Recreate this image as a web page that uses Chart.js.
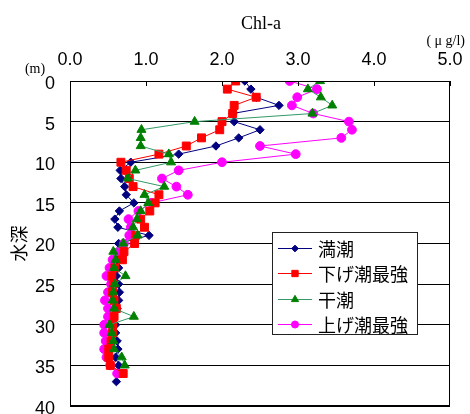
<!DOCTYPE html>
<html>
<head>
<meta charset="utf-8">
<script src="https://cdn.jsdelivr.net/npm/chart.js@4.4.0/dist/chart.umd.min.js"></script>
<style>
  html, body { margin: 0; padding: 0; background: #fff; }
  #wrap { width: 470px; height: 414px; }
</style>
</head>
<body>
<div id="wrap"><canvas id="c" width="470" height="414"></canvas></div>
<script>
// Sampling depths (m)
const depths = [0,1,2,3,4,5,6,7,8,9,10,11,12,13,14,15,16,17,18,19,20,21,22,23,24,25,26,27,28,29,30,31,32,33,34,35,36,37];

// Chl-a (μg/l) per depth for each tide phase
const manchou  = [2.30,2.38,2.45,2.75,2.14,2.16,2.50,2.22,1.92,1.43,0.80,0.66,0.67,0.72,0.74,0.84,0.65,0.59,0.63,1.04,0.64,0.66,0.62,0.64,0.61,0.64,0.65,0.64,0.62,0.57,0.60,0.60,0.62,0.63,0.60,0.64,0.63,0.61];
const sageshio = [2.18,2.07,2.45,2.16,2.14,2.00,1.97,1.73,1.53,1.17,0.67,0.74,0.78,0.83,1.17,1.12,1.05,0.93,0.98,0.86,0.85,0.71,0.69,0.59,0.55,0.57,0.56,0.58,0.61,0.58,0.56,0.56,0.54,0.51,0.51,0.53,0.70];
const kanchou  = [3.29,3.13,3.30,3.45,3.19,1.64,0.94,0.93,0.93,1.30,1.33,0.86,0.76,1.24,0.98,1.03,0.93,0.88,0.83,0.89,0.70,0.57,0.60,0.58,0.73,0.59,0.57,0.56,0.58,0.84,0.52,0.55,0.57,0.58,0.68,0.72];
const ageshio  = [2.89,3.25,2.99,2.92,3.20,3.67,3.71,3.57,2.50,2.97,2.00,1.43,1.21,1.40,1.55,1.07,0.90,0.77,0.80,0.78,0.71,0.64,0.56,0.52,0.48,0.54,0.50,0.46,0.50,0.50,0.45,0.45,0.47,0.45,0.48,0.53,0.62];

const seriesNames = ['満潮', '下げ潮最強', '干潮', '上げ潮最強'];
const xTickValues = [0, 1, 2, 3, 4, 5];
const yTickValues = [0, 5, 10, 15, 20, 25, 30, 35, 40];

function toPoints(values) {
  return values.map((v, i) => ({ x: v, y: depths[i] }));
}

const datasets = [
  { label: seriesNames[0], data: toPoints(manchou),  borderColor: '#000080', backgroundColor: '#000080',
    pointStyle: 'rectRot', pointRadius: 4.2, order: 4 },
  { label: seriesNames[1], data: toPoints(sageshio), borderColor: '#FF0000', backgroundColor: '#FF0000',
    pointStyle: 'rect', pointRadius: 5.6, order: 2 },
  { label: seriesNames[2], data: toPoints(kanchou),  borderColor: '#339966', backgroundColor: '#008000',
    pointBorderColor: '#008000', pointStyle: 'triangle', pointRadius: 5.2, order: 1 },
  { label: seriesNames[3], data: toPoints(ageshio),  borderColor: '#FF00FF', backgroundColor: '#FF00FF',
    pointStyle: 'circle', pointRadius: 4.4, order: 3 }
].map(d => Object.assign({
  showLine: true, borderWidth: 1, pointBorderWidth: 1, tension: 0, fill: false
}, d));

// Free-standing captions: chart title and unit notes
const captionPlugin = {
  id: 'captions',
  afterDraw(chart) {
    const { ctx, chartArea } = chart;
    ctx.save();
    ctx.fillStyle = '#000';
    ctx.textBaseline = 'middle';
    ctx.font = '18px "Liberation Serif", "Times New Roman", serif';
    ctx.textAlign = 'center';
    ctx.fillText('Chl-a', (chartArea.left + chartArea.right) / 2 + 1, 24);
    ctx.font = '14px "Liberation Serif", serif';
    ctx.textAlign = 'right';
    ctx.fillText('( μ g/l)', chartArea.right + 15, 41);
    ctx.textAlign = 'center';
    ctx.fillText('(m)', 35, 69);
    ctx.restore();
  }
};

// Frame around the plot area plus short inward ticks on the top axis
const framePlugin = {
  id: 'frame',
  afterDatasetsDraw(chart) {
    const { ctx, chartArea, scales } = chart;
    ctx.save();
    ctx.strokeStyle = '#000';
    ctx.lineWidth = 1;
    ctx.strokeRect(chartArea.left + 0.5, chartArea.top + 0.5,
                   chartArea.right - chartArea.left - 1, chartArea.bottom - chartArea.top - 1);
    ctx.beginPath();
    xTickValues.forEach(v => {
      const px = Math.round(scales.x.getPixelForValue(v)) + 0.5;
      ctx.moveTo(px, chartArea.top);
      ctx.lineTo(px, chartArea.top + 5);
    });
    ctx.stroke();
    ctx.restore();
  }
};

// Boxed legend inside the plot area
const legendPlugin = {
  id: 'boxLegend',
  afterDraw(chart) {
    const { ctx, chartArea } = chart;
    const left = chartArea.left + 202, top = chartArea.top + 151;
    const w = 145, h = 102, rowH = 25.3;
    ctx.save();
    ctx.fillStyle = '#fff';
    ctx.fillRect(left, top, w, h);
    ctx.strokeStyle = '#222';
    ctx.lineWidth = 1;
    ctx.strokeRect(left + 0.5, top + 0.5, w, h);
    ctx.font = '18px "Noto Sans CJK JP", sans-serif';
    ctx.textBaseline = 'middle';
    ctx.textAlign = 'left';
    datasets.forEach((ds, i) => {
      const y = Math.round(top + 16 + i * rowH) + 0.5;
      ctx.strokeStyle = ds.borderColor;
      ctx.beginPath();
      ctx.moveTo(left + 6, y);
      ctx.lineTo(left + 40, y);
      ctx.stroke();
      const mc = ds.pointBorderColor || ds.backgroundColor;
      ctx.fillStyle = mc;
      ctx.strokeStyle = mc;
      const opts = { pointStyle: ds.pointStyle, radius: ds.pointRadius * 0.8, rotation: 0, borderWidth: 1 };
      if (Chart.helpers && Chart.helpers.drawPoint) {
        Chart.helpers.drawPoint(ctx, opts, left + 23, y);
      } else {
        ctx.beginPath(); ctx.arc(left + 23, y, opts.radius, 0, Math.PI * 2); ctx.fill();
      }
      ctx.fillStyle = '#000';
      ctx.fillText(ds.label, left + 46, y + 1);
    });
    ctx.restore();
  }
};

function clearScalePadding(scale) {
  scale.paddingTop = 0;
  scale.paddingBottom = 0;
  scale.paddingLeft = 0;
  scale.paddingRight = 0;
}

new Chart(document.getElementById('c'), {
  type: 'scatter',
  data: { datasets },
  options: {
    responsive: false,
    animation: false,
    devicePixelRatio: 1,
    layout: { autoPadding: false, padding: { top: 0, left: 0, right: 20, bottom: 8 } },
    plugins: { legend: { display: false }, tooltip: { enabled: false }, title: { display: false } },
    scales: {
      x: {
        type: 'linear',
        position: 'top',
        min: 0, max: 5,
        afterBuildTicks(scale) { scale.ticks = xTickValues.map(v => ({ value: v })); },
        afterFit(scale) { scale.height = 81; clearScalePadding(scale); },
        grid: { display: true, drawOnChartArea: false, drawTicks: false, color: '#000' },
        border: { display: true, color: '#000', width: 1 },
        ticks: {
          color: '#000',
          padding: 10,
          font: { family: '"Liberation Sans", Arial, sans-serif', size: 18 },
          callback: v => Number(v).toFixed(1)
        }
      },
      y: {
        type: 'linear',
        position: 'left',
        reverse: true,
        min: 0, max: 40,
        afterBuildTicks(scale) { scale.ticks = yTickValues.map(v => ({ value: v })); },
        afterFit(scale) { scale.width = 70; clearScalePadding(scale); },
        grid: { display: true, drawTicks: false, color: '#000', lineWidth: 1 },
        border: { display: true, color: '#000', width: 1 },
        ticks: {
          color: '#000',
          padding: 15,
          labelOffset: 3,
          font: { family: '"Liberation Sans", Arial, sans-serif', size: 18 },
          callback: v => String(v)
        },
        title: {
          display: true,
          text: '水深',
          color: '#000',
          padding: { top: 8, bottom: 0 },
          font: { family: '"Noto Sans CJK JP", sans-serif', size: 18 }
        }
      }
    }
  },
  plugins: [captionPlugin, framePlugin, legendPlugin]
});
</script>
</body>
</html>
